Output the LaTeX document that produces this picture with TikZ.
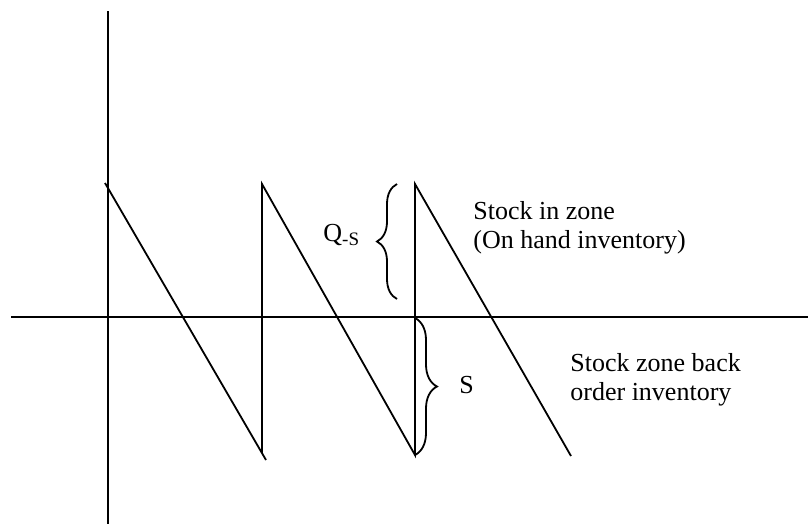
\documentclass[tikz,border=0pt]{standalone}
\usepackage{fontspec}
\setmainfont{Liberation Serif}
\usetikzlibrary{decorations.pathreplacing}

\begin{document}
\begin{tikzpicture}[x=0.5pt, y=-0.5pt, every node/.style={font=\fontsize{13}{14.5}\selectfont, inner sep=0pt}, axis/.style={line width=1pt}, saw/.style={line width=0.9pt}, bracket/.style={line width=0.9pt, decorate, decoration={brace, amplitude=10pt}}, label/.style={align=left, anchor=base west}]
\useasboundingbox (0,0) rectangle (808,526);
% axes
\coordinate (ytop) at (108,11);
\coordinate (ybot) at (108,524);
\coordinate (xl) at (11,317);
\coordinate (xr) at (808,317);
\draw[axis] (ytop) -- (ybot);
\draw[axis] (xl) -- (xr);
% saw tooth
\coordinate (top1) at (105,183);
\coordinate (end1) at (266,460);
\coordinate (top2) at (262,184);
\coordinate (bot2) at (262,453);
\coordinate (top3) at (415,184);
\coordinate (bot3) at (415,455);
\coordinate (end3) at (571,456);
\draw[saw] (top1) -- (end1);
\draw[saw] (bot2) -- (top2) -- (bot3) -- (top3) -- (end3);
% braces
\coordinate (qslo) at (397,299);
\coordinate (qshi) at (397,184);
\coordinate (shi) at (415,318);
\draw[bracket] (qslo) -- (qshi);
\draw[bracket, decoration={amplitude=11pt}] (shi) -- (bot3);
\node[label] (qs) at (323,241) {Q\raisebox{-0.35ex}{\fontsize{9.5}{10}\selectfont -S}};
\node[label] (s) at (459,393) {S};
\node[label] (onhand) at (473,248) {Stock in zone\\(On hand inventory)};
\node[label] (backorder) at (570,400) {Stock zone back\\order inventory};
\end{tikzpicture}
\end{document}
